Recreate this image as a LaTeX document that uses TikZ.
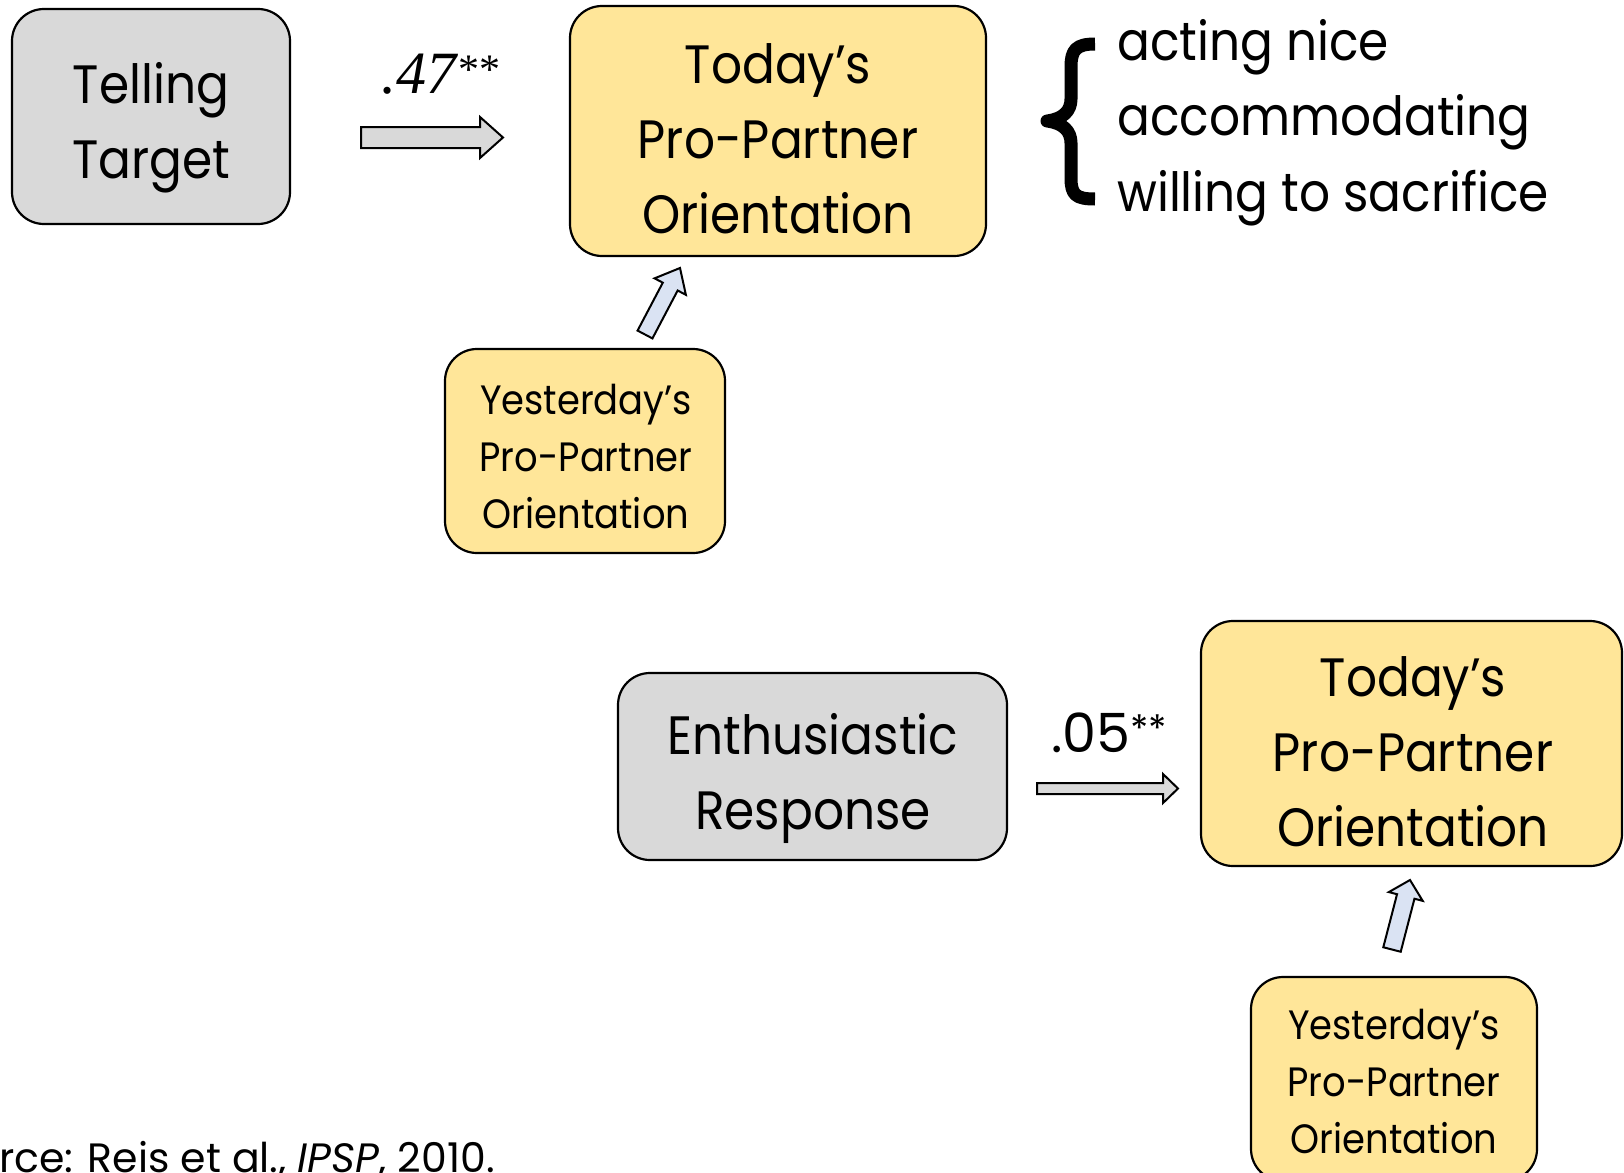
\documentclass[tikz,border=0pt]{standalone}
\usepackage{fontspec}
\setmainfont{Poppins}
\newfontfamily\narrowpop[FakeStretch=0.9]{Poppins}
\newfontfamily\timesf{Liberation Serif}
\usetikzlibrary{calc}
\definecolor{boxgray}{HTML}{D9D9D9}
\definecolor{boxyellow}{HTML}{FFE699}
\definecolor{arrowblue}{HTML}{DAE3F3}
\newcommand\blockarr[6]{%
  \coordinate (#1-h) at ($(#2)!#5!(#1)$);
  \draw[blockarrow, fill=#6]
    ($(#1)!#3!90:(#2)$) -- ($(#1-h)!#3!90:(#2)$) -- ($(#1-h)!#4!90:(#2)$) -- (#2)
    -- ($(#1-h)!#4!-90:(#2)$) -- ($(#1-h)!#3!-90:(#2)$) -- ($(#1)!#3!-90:(#2)$) -- cycle;
}
\begin{document}
\begin{tikzpicture}[x=1pt,y=-1pt,
  box/.style={draw=black, line width=2.2pt, rounded corners=32pt, inner sep=0pt},
  graybox/.style={box, fill=boxgray},
  yellowbox/.style={box, fill=boxyellow},
  bigtext/.style={font=\narrowpop\fontsize{54}{75}\selectfont, align=center, inner sep=0pt},
  smalltext/.style={font=\narrowpop\fontsize{41}{57}\selectfont, align=center, inner sep=0pt},
  sidetext/.style={font=\narrowpop\fontsize{54}{75}\selectfont, anchor=base west, inner sep=0pt},
  blockarrow/.style={draw=black, line width=2pt, line join=miter}
]
\useasboundingbox (0,0) rectangle (1624,1172);
\clip (0,0) rectangle (1624,1172);

% Boxes
\node[graybox, minimum width=278pt, minimum height=215pt] (tt) at (151,116.5) {};
\node[bigtext] (ttx) at (151,128) {Telling\\Target};

\node[yellowbox, minimum width=416pt, minimum height=250pt] (tp1) at (778,131) {};
\node[bigtext] (tp1x) at (778,139) {Today’s\\Pro-Partner\\Orientation};

\node[yellowbox, minimum width=280pt, minimum height=204pt] (yp1) at (585,451) {};
\node[smalltext] (yp1x) at (586,457) {Yesterday’s\\Pro-Partner\\Orientation};

\node[graybox, minimum width=389pt, minimum height=187pt] (en) at (812.5,766.5) {};
\node[bigtext] (enx) at (813,778) {Enthusiastic\\Response};

\node[yellowbox, minimum width=421pt, minimum height=245pt] (tp2) at (1411.5,743.5) {};
\node[bigtext] (tp2x) at (1413,752) {Today’s\\Pro-Partner\\Orientation};

\node[yellowbox, minimum width=286pt, minimum height=204pt] (yp2) at (1394,1079) {};
\node[smalltext] (yp2x) at (1394,1081) {Yesterday’s\\Pro-Partner\\Orientation};

% coefficients
\node[font=\timesf\fontsize{60}{72}\selectfont, anchor=base west, inner sep=0pt] (c1) at (381,93) {\textit{.47}\textsuperscript{**}};
\node[font=\fontsize{54}{72}\selectfont, anchor=base west, inner sep=0pt] (c2) at (1051,752) {.05\textsuperscript{**}};

% block arrows
\coordinate (a1s) at (361,137.5); \coordinate (a1e) at (503,137.5);
\blockarr{a1s}{a1e}{10.5pt}{20.5pt}{23pt}{boxgray}
\coordinate (a2s) at (1037,788.5); \coordinate (a2e) at (1178,788.5);
\blockarr{a2s}{a2e}{5.5pt}{14.5pt}{15pt}{boxgray}
\coordinate (u1s) at (645,334.5); \coordinate (u1e) at (680,268);
\blockarr{u1s}{u1e}{8.4pt}{17.7pt}{21pt}{arrowblue}
\coordinate (u2s) at (1392,949.5); \coordinate (u2e) at (1410,880);
\blockarr{u2s}{u2e}{9pt}{17.5pt}{17pt}{arrowblue}

% brace and list
\draw[line width=13pt, line join=round] (1095,44) .. controls (1076,44) and (1071,50) .. (1071,67) -- (1071,99)
  .. controls (1071,111) and (1063,119) .. (1047,121)
  .. controls (1063,123) and (1071,131) .. (1071,143) -- (1071,178)
  .. controls (1071,195) and (1076,199) .. (1095,199);
\node[sidetext] (l1) at (1117,60) {acting nice};
\node[sidetext] (l2) at (1117,135) {accommodating};
\node[sidetext] (l3) at (1117,211) {willing to sacrifice};

% source
\node[font=\fontsize{41}{50}\selectfont, anchor=base east, inner sep=0pt] (src) at (495,1172) {Source: Reis et al., \textit{IPSP}, 2010.};
\end{tikzpicture}
\end{document}
